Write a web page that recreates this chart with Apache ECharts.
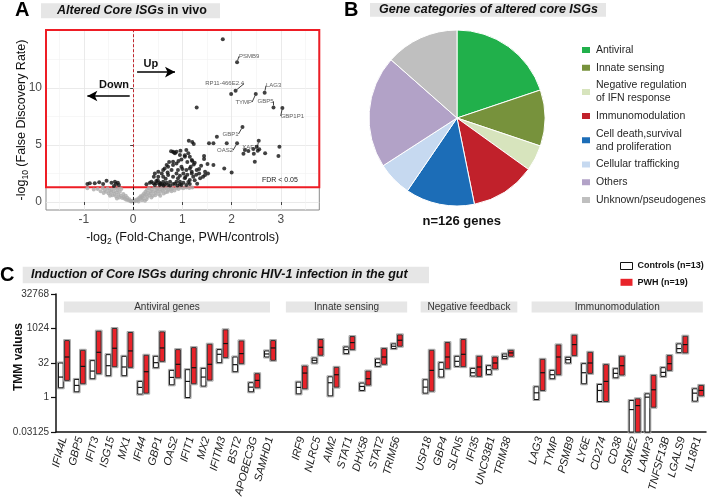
<!DOCTYPE html>
<html><head><meta charset="utf-8">
<script src="https://cdn.jsdelivr.net/npm/echarts@6/dist/echarts.min.js"></script>
<style>html,body{margin:0;padding:0;background:#fff}#c{width:708px;height:498px}</style>
</head><body><div id="c"></div>
<script>
// ================= DATA =================
// Panel A: volcano plot (x = log2 fold change, y = -log10 FDR)
const sigPoints = [
 [1.82,14.27],[1.99,9.47],[1.29,8.30],[1.70,5.73],[1.13,5.38],[1.20,5.26],[1.23,5.09],[1.54,5.15],[1.63,5.15],[1.90,5.15],
 [2.51,4.85],[2.44,4.65],[2.34,4.47],[2.27,4.56],[2.53,4.50],[2.56,4.62],[2.97,4.85],[2.24,4.24],[2.45,4.24],[2.68,4.27],
 [2.47,3.54],[2.95,4.04],[1.85,2.95],[2.00,2.60],[1.44,4.04],[1.44,3.77],[1.51,3.33],[1.38,3.19],[1.25,3.45],[1.34,2.51],
 [1.08,4.56],[1.12,4.27],[1.05,3.98],[1.15,3.98],[0.95,4.12],[0.85,4.27],[0.81,4.42],[0.88,4.42],[0.98,3.74],[1.19,3.68],
 [1.23,3.30],[1.15,2.95],[1.08,2.81],[1.19,2.66],[1.29,2.81],[0.98,3.10],[0.88,3.39],[0.81,3.54],[0.81,3.25],[0.91,2.81],
 [1.02,2.51],[0.88,2.51],[0.78,2.81],[0.71,3.10],[0.68,3.25],[0.64,2.95],[0.61,2.81],[0.58,2.51],[0.51,2.66],[0.44,2.51],
 [0.42,2.22],[0.51,2.22],[0.61,2.22],[0.71,2.37],[0.81,2.22],[0.91,2.08],[1.05,2.08],[1.15,1.93],[1.22,2.22],[1.36,2.08],
 [1.42,2.22],[1.46,2.66],[1.52,2.51],[0.88,1.78],[0.95,1.78],[1.02,1.70],[0.75,1.78],[0.68,1.70],[0.61,1.78],[0.54,1.70],
 [0.47,1.64],[0.41,1.64],[0.34,1.70],[0.27,1.55],[0.37,1.78],[0.44,1.49],[0.54,1.49],[0.64,1.55],[0.71,1.49],[0.81,1.58],
 [1.08,1.49],[1.15,1.58],[0.98,1.49],[0.55,1.60],[0.62,1.45],[0.75,1.45],[0.85,1.60],[0.90,1.45],[0.95,2.30],[1.00,2.90],
 [0.70,2.60],[0.50,1.90],[0.66,2.05],[1.10,3.50],[1.05,4.10],[0.92,3.60],[0.77,4.45],[0.83,4.35],[0.73,3.50],[1.10,2.40],
 [1.25,1.90],[1.30,1.60],[0.96,4.50],[1.17,3.10],[1.20,3.60],[1.28,2.40],[0.58,1.55],[0.47,1.85],[0.95,1.55],[1.12,1.75],
 [1.06,2.20],[1.19,2.50],[1.34,2.90],[1.63,3.25],[1.46,2.37],
 [-0.93,1.58],[-0.88,1.64],[-0.78,1.64],[-0.69,1.73],[-0.61,1.58],[-0.54,1.87],[-0.44,1.69],[-0.37,1.78],[-0.35,1.58],
 [-0.31,1.69],[-0.29,1.49],[-0.39,1.40]
];
const nsPoints = [
 [-0.93,1.20],[-0.80,1.10],[-0.72,1.15],[-0.62,1.22],[-0.58,1.05],[-0.55,0.90],[-0.52,1.18],[-0.50,0.75],[-0.48,1.00],[-0.45,0.85],
 [-0.44,1.10],[-0.42,0.60],[-0.40,0.95],[-0.38,0.70],[-0.37,1.20],[-0.35,0.50],[-0.34,0.85],[-0.32,1.05],[-0.30,0.65],[-0.28,0.40],
 [-0.27,0.90],[-0.25,0.55],[-0.24,1.15],[-0.22,0.35],[-0.20,0.70],[-0.19,0.45],[-0.17,0.28],[-0.15,0.55],[-0.14,0.20],[-0.12,0.38],
 [-0.10,0.15],[-0.08,0.25],[-0.06,0.10],[-0.04,0.05],[-0.02,0.12],[-0.60,0.80],[-0.47,0.55],[-0.33,0.30],[-0.66,0.95],[-0.29,1.22],
 [0.02,0.05],[0.04,0.15],[0.06,0.08],[0.08,0.25],[0.10,0.18],[0.12,0.35],[0.14,0.30],[0.15,0.50],[0.17,0.42],[0.19,0.60],
 [0.20,0.30],[0.22,0.75],[0.23,0.52],[0.25,0.90],[0.26,0.65],[0.28,1.05],[0.29,0.45],[0.30,0.80],[0.32,1.20],[0.33,0.60],
 [0.35,0.95],[0.36,0.75],[0.38,1.10],[0.40,0.55],[0.41,0.90],[0.43,1.25],[0.45,0.80],[0.47,1.05],[0.49,0.95],[0.50,1.20],
 [0.52,0.70],[0.54,1.10],[0.56,0.90],[0.58,1.25],[0.60,1.00],[0.63,1.15],[0.66,0.85],[0.68,1.20],[0.71,1.05],[0.74,1.25],
 [0.77,1.10],[0.80,1.20],[0.84,1.00],[0.88,1.22],[0.92,1.15],[0.97,1.25],[1.02,1.20],[1.08,1.27],[1.14,1.22],[1.20,1.27],
 [0.45,0.60],[0.37,0.40],[0.27,0.25],[0.55,0.55],[0.62,0.75],[0.70,0.90],[0.78,0.95],[0.18,0.15],[0.11,0.05],[0.24,0.12]
];
const labGenes = ['PSMB9','RP11-466E2.4','TYMP','LAG3','GBP5','GBP1P1','GBP1','OAS2','XAF1'];
const labX = [2.11, 2.08, 2.49, 2.67, 2.85, 3.03, 2.22, 2.11, 2.55];
const labY = [12.25, 9.77, 9.47, 9.59, 8.30, 8.25, 6.58, 5.15, 5.38];
const fdrCut = 1.3;                 // -log10(0.05)
const xTicksA = [-1, 0, 1, 2, 3];
const xMinorA = [-1.5, -0.5, 0.5, 1.5, 2.5, 3.5];
const yTicksA = [0, 5, 10];
const yMinorA = [2.5, 7.5, 12.5];

// Panel B: gene categories
const catNames = ['Antiviral','Innate sensing','Negative regulation\nof IFN response','Immunomodulation',
  'Cell death,survival\nand proliferation','Cellular trafficking','Others','Unknown/pseudogenes'];
const catCounts = [25, 13, 6, 15, 16, 8, 26, 17];

// Panel C: log2(TMM) ranges per gene (low, median, high)
const groupNames = ['Antiviral genes','Innate sensing','Negative feedback','Immunomodulation'];
const groupGenes = [
 ['IFI44L','GBP5','IFIT3','ISG15','MX1','IFI44','GBP1','OAS2','IFIT1','MX2','IFITM3','BST2','APOBEC3G','SAMHD1'],
 ['IRF9','NLRC5','AIM2','STAT1','DHX58','STAT2','TRIM56'],
 ['USP18','GBP4','SLFN5','IFI35','UNC93B1','TRIM38'],
 ['LAG3','TYMP','PSMB9','LY6E','CD274','CD38','PSME2','LAMP3','TNFSF13B','LGALS9','IL18R1']
];
const ctrlLow  = [1.41,0.83,2.72,3.16,3.16,0.49,4.32,1.84,0,1.65,5.05,3.74,0.83,5.87, 0.53,5.0,0.24,6.36,1.02,4.51,7.09, 0.63,2.96,4.51,3.11,3.35,5.63, -0.29,2.72,5.0,1.99,-0.58,2.86,-5,-5,3.06,6.5,-0.53];
const ctrlMed  = [2.96,1.75,3.83,4.61,4.42,1.46,5.05,2.91,2.33,2.96,6.26,4.76,1.5,6.31, 1.46,5.39,2.14,6.94,1.6,5.05,7.43, 1.5,4.08,5.24,3.59,4.03,5.97, 0.68,3.3,5.49,3.59,1.02,3.5,-1.75,0.05,3.64,7.09,0.63];
const ctrlHigh = [5.0,2.62,5.34,6.21,5.97,2.33,5.97,3.93,4.03,4.22,6.94,5.87,2.14,6.75, 2.23,5.73,3.0,7.33,2.09,5.58,7.77, 2.57,5.05,5.97,4.22,4.61,6.31, 1.55,3.93,5.83,4.9,1.89,4.17,-0.44,0.53,4.32,7.77,1.26];
const pwhLow   = [2.48,1.99,3.45,4.47,4.37,0.63,5.24,2.86,1.99,2.52,5.78,4.9,1.41,5.39, 1.26,6.12,1.5,6.94,1.8,4.81,7.43, 0.92,4.17,4.47,3.06,4.13,5.97, 1.02,3.3,6.07,3.5,-0.58,3.25,-5,-1.41,3.93,6.46,0.24];
const pwhMed   = [5.87,4.51,6.55,7.14,6.75,3.74,7.18,4.81,4.32,4.81,7.82,6.36,2.48,7.18, 3.54,7.28,3.3,7.96,2.72,5.87,8.3, 3.93,5.87,6.26,4.42,5.0,6.46, 3.59,5.87,7.67,5.0,2.33,4.61,-1.17,1.12,4.9,7.67,1.02];
const pwhHigh  = [8.25,6.84,9.61,10.0,9.42,6.12,9.51,6.94,7.23,7.72,9.81,8.2,3.45,8.25, 4.56,8.4,4.37,8.83,3.83,7.09,9.08, 6.84,7.96,8.4,5.97,5.87,6.84, 5.53,7.62,9.03,6.55,4.76,5.97,-0.19,3.2,6.07,8.88,1.75];
const seriesNames = ['Controls (n=13)', 'PWH (n=19)'];

// ================= LAYOUT / STYLE =================
const FONT = 'Liberation Sans, Arial, Helvetica, sans-serif';
const catColors = ['#21b04b','#77923c','#d7e4bd','#c1212b','#1c6db7','#c6d9f0','#b2a2c7','#bfbfbf'];
const labOffsets = [[12,-6],[-11,-7],[-12,8],[9,-7],[-8,-6],[10,8],[-12,7],[-12,7],[-9,7]];
const headerPad = [[0,0],[1,0.65],[0.5,0.6],[0.5,0.3]];

// ================= BUILD =================
const cats = []; const geneIdx = []; const groupSpan = [];
groupGenes.forEach((g, gi) => {
  const start = cats.length;
  g.forEach(n => { geneIdx.push(cats.length); cats.push(n); });
  groupSpan.push([start, cats.length - 1, gi]);
  if (gi < groupGenes.length - 1) cats.push(' '.repeat(gi + 1));
});
const ctrlData = geneIdx.map((ci, i) => [ci, ctrlLow[i], ctrlMed[i], ctrlHigh[i]]);
const pwhData  = geneIdx.map((ci, i) => [ci, pwhLow[i], pwhMed[i], pwhHigh[i]]);

function boxItem(shift, fill, stroke) {
  return function (params, api) {
    const idx = api.value(0);
    const pHi = api.coord([idx, api.value(3)]);
    const pLo = api.coord([idx, api.value(1)]);
    const pMd = api.coord([idx, api.value(2)]);
    const step = api.size([1, 0])[0];
    const w = step * 0.3;
    const cx = pLo[0] + shift * step;
    const x0 = cx - w / 2;
    return { type: 'group', children: [
      { type: 'rect', shape: { x: x0 - 1, y: pHi[1] - 1, width: w + 2, height: pLo[1] - pHi[1] + 2 },
        style: { fill: 'none', stroke: '#a6a6a6', lineWidth: 1 } },
      { type: 'rect', shape: { x: x0, y: pHi[1], width: w, height: pLo[1] - pHi[1] },
        style: { fill: fill, stroke: stroke, lineWidth: 1 } },
      { type: 'line', shape: { x1: x0, y1: pMd[1], x2: x0 + w, y2: pMd[1] },
        style: { stroke: '#111', lineWidth: 1.2 } }
    ]};
  };
}

const total = catCounts.reduce((a, b) => a + b, 0);
const axisNameRich = {
  n: { fontSize: 12.5, color: '#111', fontFamily: FONT },
  s: { fontSize: 8.5, color: '#111', fontFamily: FONT, verticalAlign: 'bottom', lineHeight: 16 }
};

const chart = echarts.init(document.getElementById('c'), null, { renderer: 'canvas' });
chart.setOption({
  animation: false,
  textStyle: { fontFamily: FONT },
  grid: [
    { left: 46, top: 30, right: 388.7, bottom: 288, show: true, borderColor: '#8a8a8a', borderWidth: 1,
      backgroundColor: '#fff', outerBoundsMode: 'none', containLabel: false },
    { left: 56, top: 294, right: 2, bottom: 66, outerBoundsMode: 'none', containLabel: false }
  ],
  xAxis: [
    { type: 'value', gridIndex: 0, min: -1.77, max: 3.78,
      axisLine: { show: false },
      axisTick: { show: true, length: 3, customValues: xTicksA, lineStyle: { color: '#444' } },
      axisLabel: { customValues: xTicksA, color: '#4d4d4d', fontSize: 12, margin: 4 },
      splitLine: { show: true, lineStyle: { color: '#e4e4e4', width: 0.8 } },
      name: '{n|-log}{s|2}{n| (Fold-Change, PWH/controls)}', nameLocation: 'middle', nameGap: 20,
      nameMoveOverlap: false, nameTextStyle: { rich: axisNameRich } },
    { type: 'value', gridIndex: 0, min: -1.77, max: 3.78, position: 'bottom',
      axisLine: { show: false }, axisTick: { show: false, customValues: xMinorA },
      axisLabel: { show: false, customValues: xMinorA },
      splitLine: { show: true, lineStyle: { color: '#f2f2f2', width: 0.6 } } },
    { type: 'category', gridIndex: 1, data: cats, boundaryGap: true,
      axisLine: { show: true, onZero: false, lineStyle: { color: '#111', width: 1.5 } },
      axisTick: { alignWithLabel: true, interval: 0, length: 4, lineStyle: { color: '#111', width: 1.2 } },
      axisLabel: { interval: 0, rotate: 75, fontSize: 11, fontStyle: 'italic', color: '#1a1a1a', margin: 5 },
      splitLine: { show: false } }
  ],
  yAxis: [
    { type: 'value', gridIndex: 0, min: -0.7, max: 15.09,
      axisLine: { show: false },
      axisTick: { show: true, length: 3, customValues: yTicksA, lineStyle: { color: '#444' } },
      axisLabel: { customValues: yTicksA, color: '#4d4d4d', fontSize: 12, margin: 4 },
      splitLine: { show: true, lineStyle: { color: '#e4e4e4', width: 0.8 } },
      name: '{n|-log}{s|10}{n| (False Discovery Rate)}', nameLocation: 'middle', nameGap: 16, nameRotate: 90,
      nameMoveOverlap: false, nameTextStyle: { rich: axisNameRich } },
    { type: 'value', gridIndex: 0, min: -0.7, max: 15.09, position: 'left',
      axisLine: { show: false }, axisTick: { show: false, customValues: yMinorA },
      axisLabel: { show: false, customValues: yMinorA },
      splitLine: { show: true, lineStyle: { color: '#f2f2f2', width: 0.6 } } },
    { type: 'value', gridIndex: 1, min: -5, max: 15, interval: 5,
      axisLine: { show: true, onZero: false, lineStyle: { color: '#111', width: 1.5 } },
      axisTick: { show: true, length: 5, lineStyle: { color: '#111', width: 1.2 } },
      axisLabel: { color: '#333', fontSize: 10, margin: 7, formatter: v => String(Math.pow(2, v)) },
      splitLine: { show: false },
      name: 'TMM values', nameLocation: 'middle', nameGap: 31, nameRotate: 90, nameMoveOverlap: false,
      nameTextStyle: { fontSize: 12, fontWeight: 'bold', color: '#111', padding: [0, 0, 0, 12] } }
  ],
  legend: [
    { data: catNames, orient: 'vertical', left: 575, top: 38.5, itemWidth: 10, itemHeight: 8, itemGap: 4.7,
      icon: 'rect', selectedMode: false,
      textStyle: { fontSize: 10.5, lineHeight: 13, color: '#262626', fontFamily: FONT } },
    { data: [
        { name: seriesNames[0], icon: 'rect', itemStyle: { color: '#fff', borderColor: '#111', borderWidth: 1 } },
        { name: seriesNames[1], icon: 'rect', itemStyle: { color: '#e8232a', borderColor: '#e8232a', borderWidth: 0 } }
      ],
      orient: 'vertical', left: 615, top: 256, itemWidth: 12, itemHeight: 7, itemGap: 6.3, selectedMode: false,
      textStyle: { fontSize: 9, lineHeight: 10, fontWeight: 'bold', color: '#111', fontFamily: FONT } }
  ],
  series: [
    { type: 'scatter', name: 'ns', xAxisIndex: 0, yAxisIndex: 0, data: nsPoints, symbolSize: 4, clip: false,
      itemStyle: { color: '#ababab' }, silent: true,
      markArea: { silent: true, itemStyle: { color: 'rgba(0,0,0,0)', borderColor: '#ee1d25', borderWidth: 2 },
        data: [[{ coord: [-1.77, fdrCut] }, { coord: [3.78, 15.09] }]] },
      markLine: { silent: true, symbol: 'none', label: { show: false },
        lineStyle: { type: [3, 2], width: 1 },
        data: [
          [{ coord: [0, -0.7], lineStyle: { color: '#222', type: [3, 2], width: 1 } }, { coord: [0, fdrCut] }],
          [{ coord: [0, fdrCut], lineStyle: { color: '#c0262d', type: [3, 2], width: 1 } }, { coord: [0, 15.09] }]
        ] } },
    { type: 'scatter', name: 'sig', xAxisIndex: 0, yAxisIndex: 0, data: sigPoints, symbolSize: 4, clip: false,
      itemStyle: { color: '#111' }, silent: true,
      markLine: { silent: true, symbol: ['none', 'arrow'], symbolSize: [8, 10], label: { show: false },
        lineStyle: { color: '#000', width: 1.5, type: 'solid' },
        data: [
          [{ coord: [0.08, 11.4] }, { coord: [0.85, 11.4] }],
          [{ coord: [-0.07, 9.3] }, { coord: [-0.93, 9.3] }]
        ] },
      markPoint: { silent: true, symbol: 'circle', symbolSize: 1, itemStyle: { color: 'rgba(0,0,0,0)' },
        label: { show: true, position: 'inside', color: '#111', fontFamily: FONT },
        data: [
          { name: 'Up', coord: [0.36, 12.08], label: { formatter: 'Up', fontSize: 11, fontWeight: 'bold' } },
          { name: 'Down', coord: [-0.39, 10.26], label: { formatter: 'Down', fontSize: 11, fontWeight: 'bold' } },
          { name: 'FDR', coord: [2.98, 1.93], label: { formatter: 'FDR < 0.05', fontSize: 7, color: '#222' } }
        ] } },
    { type: 'scatter', name: 'lab', xAxisIndex: 0, yAxisIndex: 0, symbolSize: 4, clip: false, silent: true,
      data: labGenes.map((g, i) => ({ name: g, value: [labX[i], labY[i]] })),
      itemStyle: { color: '#111' },
      label: { show: true, position: 'inside', formatter: '{b}', fontSize: 6, color: '#333', fontFamily: FONT },
      labelLayout: p => ({ dx: labOffsets[p.dataIndex][0], dy: labOffsets[p.dataIndex][1] }),
      labelLine: { show: true, lineStyle: { color: '#111', width: 0.8 } } },
    { type: 'pie', name: 'cats', center: [457, 118], radius: 88, startAngle: 90, clockwise: true,
      silent: true, label: { show: false }, labelLine: { show: false },
      itemStyle: { borderColor: '#fff', borderWidth: 1 },
      data: catNames.map((n, i) => ({ name: n, value: catCounts[i], itemStyle: { color: catColors[i] } })) },
    { type: 'custom', name: 'headers', xAxisIndex: 2, yAxisIndex: 2, silent: true,
      data: groupSpan, encode: { x: [0, 1] },
      renderItem: function (params, api) {
        const gi = api.value(2);
        const step = api.size([1, 0])[0];
        const xs = api.coord([api.value(0), 0])[0] - headerPad[gi][0] * step;
        const xe = api.coord([api.value(1), 0])[0] + headerPad[gi][1] * step;
        const top = params.coordSys.y + 7.5;
        return { type: 'group', children: [
          { type: 'rect', shape: { x: xs, y: top, width: xe - xs, height: 11 }, style: { fill: '#e6e6e6' } },
          { type: 'text', style: { text: groupNames[gi], x: (xs + xe) / 2, y: top + 5.5, align: 'center',
              verticalAlign: 'middle', fill: '#333', fontSize: 10, fontFamily: FONT } }
        ]};
      } },
    { type: 'custom', name: seriesNames[0], xAxisIndex: 2, yAxisIndex: 2, silent: true,
      data: ctrlData, encode: { x: 0, y: [1, 2, 3] },
      itemStyle: { color: '#fff', borderColor: '#111' },
      renderItem: boxItem(-0.195, '#fff', '#111') },
    { type: 'custom', name: seriesNames[1], xAxisIndex: 2, yAxisIndex: 2, silent: true,
      data: pwhData, encode: { x: 0, y: [1, 2, 3] },
      itemStyle: { color: '#e8232a' },
      renderItem: boxItem(0.195, '#e8232a', '#333') }
  ],
  graphic: [
    { type: 'text', left: 15, top: 0, style: { text: 'A', fontSize: 20, fontWeight: 'bold', fill: '#000', fontFamily: FONT } },
    { type: 'text', left: 344, top: 0, style: { text: 'B', fontSize: 20, fontWeight: 'bold', fill: '#000', fontFamily: FONT } },
    { type: 'text', left: 0, top: 265, style: { text: 'C', fontSize: 20, fontWeight: 'bold', fill: '#000', fontFamily: FONT } },
    { type: 'rect', shape: { x: 41, y: 3.3, width: 179, height: 15 }, style: { fill: '#e6e6e6' } },
    { type: 'text', x: 57, y: 11, style: { text: '{i|Altered Core ISGs} {b|in vivo}', verticalAlign: 'middle',
        rich: { i: { fontSize: 12.5, fontWeight: 'bold', fontStyle: 'italic', fontFamily: FONT, fill: '#111' },
                b: { fontSize: 12.5, fontWeight: 'bold', fontFamily: FONT, fill: '#111' } } } },
    { type: 'rect', shape: { x: 370, y: 3, width: 236, height: 13.7 }, style: { fill: '#e6e6e6' } },
    { type: 'text', x: 379, y: 10, style: { text: 'Gene categories of altered core ISGs', verticalAlign: 'middle',
        fontSize: 12.5, fontWeight: 'bold', fontStyle: 'italic', fontFamily: FONT, fill: '#111' } },
    { type: 'rect', shape: { x: 22.7, y: 266.7, width: 406.3, height: 16.6 }, style: { fill: '#e6e6e6' } },
    { type: 'text', x: 31, y: 275, style: { text: 'Induction of Core ISGs during chronic HIV-1 infection in the gut',
        verticalAlign: 'middle', fontSize: 12.5, fontWeight: 'bold', fontStyle: 'italic', fontFamily: FONT, fill: '#111' } },
    { type: 'text', x: 461.7, y: 221.7, style: { text: 'n=' + total + ' genes', align: 'center', verticalAlign: 'middle',
        fontSize: 13, fontWeight: 'bold', fontFamily: FONT, fill: '#111' } }
  ]
});
</script></body></html>
